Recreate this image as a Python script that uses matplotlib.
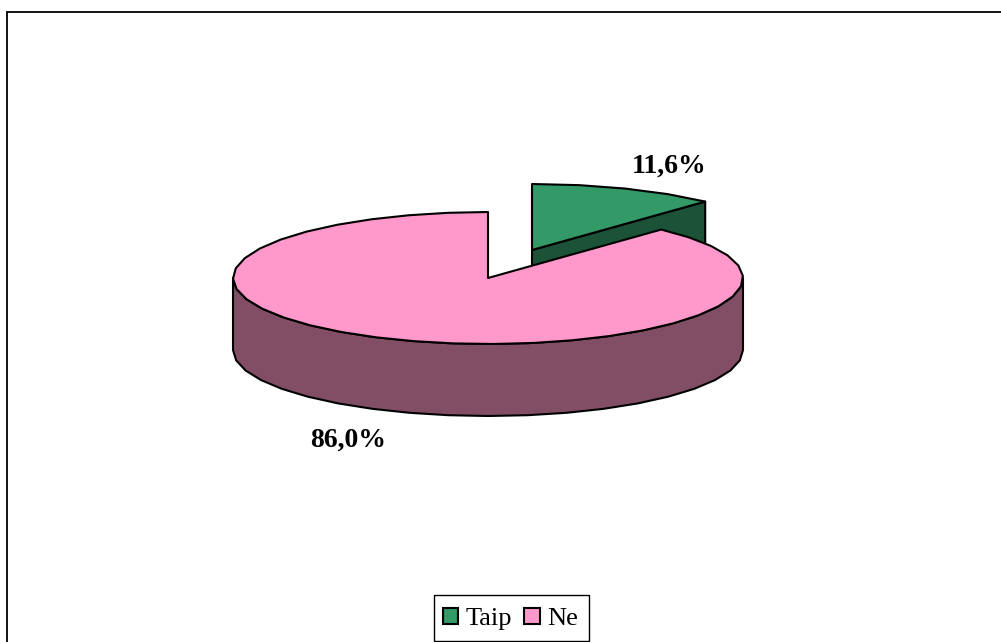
import numpy as np
import matplotlib
matplotlib.use("Agg")
import matplotlib.pyplot as plt
from matplotlib.patches import Polygon, Patch, Rectangle

labels = ["Taip", "Ne"]
values = [11.6, 86.0]
value_labels = ["11,6%", "86,0%"]

# colours and layout, in pixels of the picture
top_colors = ["#339966", "#FF99CC"]
side_colors = ["#1C5238", "#824E66"]
centers = [(532, 250), (488, 278)]
rx, ry = 255, 66
depth = 72


def rim(cx, cy, a0, a1, drop=0):
    # angles clockwise from 12 o'clock, coarse steps like the old office renderer
    n = max(int(abs(a1 - a0) / 9), 2)
    t = np.radians(np.linspace(a0, a1, n + 1))
    return np.column_stack([cx + rx * np.sin(t), cy - ry * np.cos(t) + drop])


def draw_slice(ax, center, a0, a1, top, side, z):
    cx, cy = center
    kw = dict(edgecolor="black", linewidth=1.5, joinstyle="round", zorder=z)
    # outer wall, only the part facing the viewer
    lo, hi = max(a0, 90), min(a1, 270)
    if hi > lo:
        wall = np.vstack([rim(cx, cy, lo, hi), rim(cx, cy, lo, hi, depth)[::-1]])
        ax.add_patch(Polygon(wall, closed=True, facecolor=side, **kw))
    # cut face at the end of the slice, seen only on the right half
    if a1 < 90:
        p = rim(cx, cy, a1, a1)[0]
        face = [(cx, cy), p, (p[0], p[1] + depth), (cx, cy + depth)]
        ax.add_patch(Polygon(face, closed=True, facecolor=side, **kw))
    # top
    ring = np.vstack([[(cx, cy)], rim(cx, cy, a0, a1)])
    ax.add_patch(Polygon(ring, closed=True, facecolor=top, **kw))


fig = plt.figure(figsize=(10.01, 6.42), dpi=100)
ax = fig.add_axes([0, 0, 1, 1])
ax.set_xlim(0, 1001)
ax.set_ylim(642, 0)
ax.axis("off")

# frame, cut off on the right and at the bottom
ax.plot([7.2, 7.2, 1001], [642, 12.2, 12.2], color="black", lw=1.3, solid_joinstyle="miter")

total = sum(values)
green_end = values[0] / total * 360
draw_slice(ax, centers[0], 0, green_end, top_colors[0], side_colors[0], 2)
draw_slice(ax, centers[1], green_end, 360, top_colors[1], side_colors[1], 3)

font = dict(family="Liberation Serif", fontsize=20, fontweight="bold", color="black",
            ha="center", va="center", zorder=5)
ax.text(669, 166, value_labels[0], **font)
ax.text(348.5, 440, value_labels[1], **font)

# legend box is drawn apart, it is taller than the legend's own padding allows
ax.add_patch(Rectangle((433.5, 594.5), 155, 46, facecolor="white", edgecolor="black", linewidth=1))
handles = [Patch(facecolor=c, edgecolor="black", linewidth=1.5) for c in top_colors]
ax.legend(handles, labels, ncol=2, loc="center", bbox_to_anchor=(510.5, 619),
          bbox_transform=ax.transData, frameon=False,
          prop=dict(family="Liberation Serif", size=19),
          handlelength=0.58, handleheight=0.58, handletextpad=0.3, columnspacing=0.45,
          borderpad=0.35, borderaxespad=0)

fig.savefig("out.png", dpi=100)
